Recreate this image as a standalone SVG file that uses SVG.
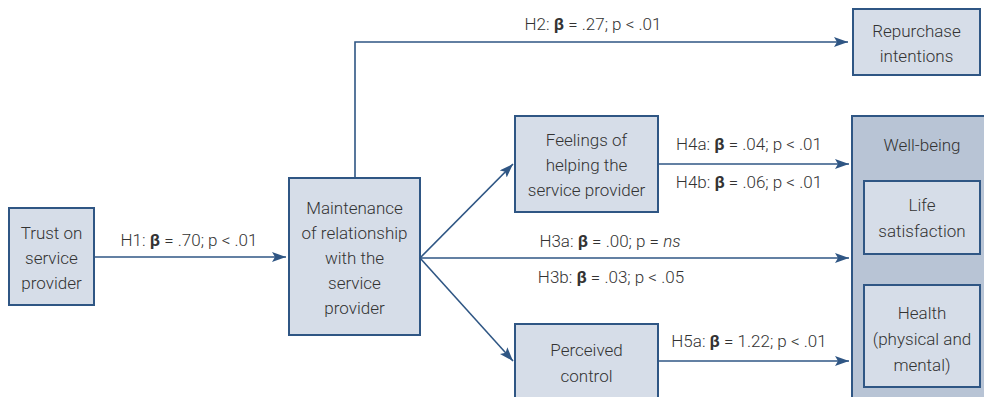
<svg xmlns="http://www.w3.org/2000/svg" width="984" height="397" viewBox="0 0 984 397">
<defs>
<style>
.box{fill:#d6dde8;stroke:#2f5684;stroke-width:2}
.outer{fill:#b8c4d5;stroke:#2f5684;stroke-width:2}
.t{font-family:Roboto,"Liberation Sans",sans-serif;font-weight:300;font-size:17px;fill:#333;text-anchor:middle}
.b{font-weight:700}
.c{fill:none;stroke:#2f5684;stroke-width:1.6}
</style>
<marker id="ah" viewBox="0 0 14 10" refX="14" refY="5" markerWidth="14" markerHeight="10" markerUnits="userSpaceOnUse" orient="auto">
<path d="M0,0 L14,5 L0,10 L3,5 Z" fill="#2f5684"/>
</marker>
</defs>
<rect width="984" height="397" fill="#fff"/>

<g id="trust">
<rect class="box" x="9" y="208" width="85" height="97"/>
<text class="t" x="51.5" y="239">Trust on</text>
<text class="t" x="51.5" y="264">service</text>
<text class="t" x="51.5" y="289">provider</text>
</g>

<g id="maintenance">
<rect class="box" x="289" y="178" width="131" height="157"/>
<text class="t" x="354.5" y="214">Maintenance</text>
<text class="t" x="354.5" y="239">of relationship</text>
<text class="t" x="354.5" y="264">with the</text>
<text class="t" x="354.5" y="289">service</text>
<text class="t" x="354.5" y="314">provider</text>
</g>

<g id="repurchase">
<rect class="box" x="853" y="9" width="127" height="66"/>
<text class="t" x="916.5" y="37">Repurchase</text>
<text class="t" x="916.5" y="62">intentions</text>
</g>

<g id="feelings">
<rect class="box" x="515" y="116" width="143" height="96"/>
<text class="t" x="586.5" y="146">Feelings of</text>
<text class="t" x="586.5" y="171">helping the</text>
<text class="t" x="586.5" y="196">service provider</text>
</g>

<g id="perceived">
<rect class="box" x="515" y="324" width="143" height="80"/>
<text class="t" x="586.5" y="356">Perceived</text>
<text class="t" x="586.5" y="382">control</text>
</g>

<g id="wellbeing">
<rect class="outer" x="852" y="116" width="140" height="290"/>
<text class="t" x="922" y="151">Well-being</text>
</g>

<g id="life">
<rect class="box" x="864" y="181" width="116" height="73"/>
<text class="t" x="922" y="211">Life</text>
<text class="t" x="922" y="237">satisfaction</text>
</g>

<g id="health">
<rect class="box" x="864" y="285" width="116" height="102"/>
<text class="t" x="922" y="319">Health</text>
<text class="t" x="922" y="345">(physical and</text>
<text class="t" x="922" y="371">mental)</text>
</g>

<g id="connectors">
<line class="c" x1="94" y1="257" x2="286" y2="257" marker-end="url(#ah)"/>
<polyline class="c" points="355,178 355,42 848,42" marker-end="url(#ah)"/>
<line class="c" x1="420" y1="258" x2="513" y2="164" marker-end="url(#ah)"/>
<line class="c" x1="420" y1="258" x2="849" y2="258" marker-end="url(#ah)"/>
<line class="c" x1="420" y1="258" x2="513" y2="361" marker-end="url(#ah)"/>
<line class="c" x1="658" y1="164" x2="849" y2="164" marker-end="url(#ah)"/>
<line class="c" x1="658" y1="361" x2="849" y2="361" marker-end="url(#ah)"/>
</g>

<g id="labels">
<text class="t" x="189" y="246">H1: <tspan class="b">β</tspan> = .70; p &lt; .01</text>
<text class="t" x="593" y="30">H2: <tspan class="b">β</tspan> = .27; p &lt; .01</text>
<text class="t" x="610" y="247">H3a: <tspan class="b">β</tspan> = .00; p = <tspan font-style="italic">ns</tspan></text>
<text class="t" x="611" y="283">H3b: <tspan class="b">β</tspan> = .03; p &lt; .05</text>
<text class="t" x="749" y="150">H4a: <tspan class="b">β</tspan> = .04; p &lt; .01</text>
<text class="t" x="749" y="188">H4b: <tspan class="b">β</tspan> = .06; p &lt; .01</text>
<text class="t" x="749" y="347">H5a: <tspan class="b">β</tspan> = 1.22; p &lt; .01</text>
</g>
</svg>
